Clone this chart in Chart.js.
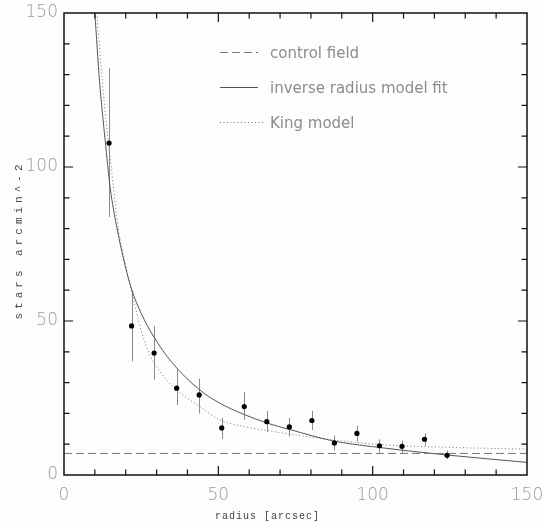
<!DOCTYPE html>
<html lang="en">
<head>
<meta charset="UTF-8">
<script src="https://cdn.jsdelivr.net/npm/chart.js"></script>
<title>stars per arcmin^2 vs radius</title>
<style>
  html, body { margin: 0; padding: 0; background: #fdfdfd; }
</style>
</head>
<body>
<canvas id="myChart" width="544" height="522"></canvas>
<script>
// measured star density with error bars
const radius  = [14.6, 21.9, 29.2, 36.5, 43.8, 51.1, 58.4, 65.7, 73.0, 80.3, 87.6, 94.9, 102.2, 109.5, 116.8, 124.1];
const density = [107.8, 48.4, 39.6, 28.2, 26.0, 15.3, 22.2, 17.3, 15.6, 17.7, 10.4, 13.5, 9.5, 9.3, 11.6, 6.4];
const errUp   = [132, 60, 48.4, 34.2, 31.3, 18.5, 27, 20.8, 18.5, 20.8, 12.8, 15.9, 11.6, 11.1, 13.5, 7.9];
const errDown = [83.8, 36.9, 31, 22.7, 20, 11.7, 17.9, 14, 12.4, 14.6, 7.9, 10.8, 7.2, 7.0, 9.4, 5.1];

// inverse radius model fit
const fitR = [10, 11.5, 13.3, 15, 17, 19.8, 22, 25, 29, 35, 44, 50.5, 58, 66, 73, 87, 100, 124, 150];
const fitY = [150, 128, 109, 93, 81, 68, 60, 52.5, 45, 36.5, 27.6, 23.3, 19.8, 16.8, 14.8, 11.1, 9.2, 6.5, 4.1];

// King model
const kingR = [10.6, 12, 13.5, 15.3, 17.6, 20, 21.9, 25, 28, 32, 36, 44, 50.5, 58, 66.7, 80, 87.2, 102, 124, 150];
const kingY = [150, 133, 116, 100, 80, 68, 59.5, 47, 38.5, 32.5, 28, 22.2, 17.9, 15.8, 14.3, 12.3, 11.4, 9.9, 9.0, 8.4];

// control field level
const ctrlR = [0, 150];
const ctrlY = [7.0, 7.0];

const xTicks = [0, 50, 100, 150];
const yTicks = [0, 50, 100, 150];

const pts = (xs, ys) => xs.map((v, i) => ({ x: v, y: ys[i] }));

const decor = {
    id: 'decor',
    beforeDatasetsDraw(chart) {
        const { ctx, scales: { x, y } } = chart;
        ctx.save();
        ctx.strokeStyle = '#8a8a8a';
        ctx.lineWidth = 1;
        radius.forEach((r, i) => {
            const px = Math.round(x.getPixelForValue(r)) + 0.5;
            ctx.beginPath();
            ctx.moveTo(px, y.getPixelForValue(errUp[i]));
            ctx.lineTo(px, y.getPixelForValue(errDown[i]));
            ctx.stroke();
        });
        ctx.restore();
    },
    afterDraw(chart) {
        const { ctx, chartArea: a, scales: { x, y } } = chart;
        ctx.save();
        // frame
        ctx.strokeStyle = '#111';
        ctx.lineWidth = 1.5;
        ctx.strokeRect(a.left, a.top, a.right - a.left, a.bottom - a.top);
        // ticks, minor every 10
        ctx.lineWidth = 1.2;
        for (let v = 10; v < 150; v += 10) {
            const len = v % 50 === 0 ? 9 : 5.5;
            const px = x.getPixelForValue(v);
            const py = y.getPixelForValue(v);
            ctx.beginPath();
            ctx.moveTo(px, a.bottom); ctx.lineTo(px, a.bottom - len);
            ctx.moveTo(px, a.top); ctx.lineTo(px, a.top + len);
            ctx.moveTo(a.left, py); ctx.lineTo(a.left + len, py);
            ctx.moveTo(a.right, py); ctx.lineTo(a.right - len, py);
            ctx.stroke();
        }
        // legend
        const items = [
            { ds: chart.data.datasets[1], y: 52, dash: [8, 4], col: '#777', width: 38 },
            { ds: chart.data.datasets[2], y: 87, dash: [], col: '#555', width: 38 },
            { ds: chart.data.datasets[3], y: 122, dash: [1, 2.5], col: '#777', width: 45 }
        ];
        ctx.font = '15px "DejaVu Sans"';
        ctx.textBaseline = 'alphabetic';
        ctx.textAlign = 'left';
        items.forEach(it => {
            ctx.strokeStyle = it.col;
            ctx.lineWidth = 1;
            ctx.setLineDash(it.dash);
            ctx.beginPath();
            ctx.moveTo(220, it.y + 0.5);
            ctx.lineTo(220 + it.width, it.y + 0.5);
            ctx.stroke();
            ctx.setLineDash([]);
            ctx.fillStyle = '#8c8c8c';
            ctx.fillText(it.ds.label, 270, it.y + 6);
        });
        // axis titles
        ctx.fillStyle = '#444';
        ctx.font = '10px "Liberation Mono"';
        ctx.letterSpacing = '1px';
        ctx.textAlign = 'left';
        ctx.textBaseline = 'middle';
        ctx.fillText('radius [arcsec]', 215, 516);
        ctx.translate(19, 240);
        ctx.rotate(-Math.PI / 2);
        ctx.font = '11px "Liberation Mono"';
        ctx.letterSpacing = '4px';
        ctx.textAlign = 'center';
        ctx.fillText('stars arcmin^-2', 0, 0);
        ctx.restore();
    }
};

new Chart(document.getElementById('myChart'), {
    type: 'scatter',
    data: {
        datasets: [{
            label: 'data',
            data: pts(radius, density),
            pointRadius: 2.6,
            pointBackgroundColor: '#000',
            pointBorderWidth: 0,
            showLine: false
        }, {
            label: 'control field',
            type: 'line',
            data: pts(ctrlR, ctrlY),
            borderColor: '#777',
            borderWidth: 1,
            borderDash: [8, 4],
            pointRadius: 0,
            fill: false
        }, {
            label: 'inverse radius model fit',
            type: 'line',
            data: pts(fitR, fitY),
            borderColor: '#555',
            borderWidth: 1,
            pointRadius: 0,
            cubicInterpolationMode: 'monotone',
            fill: false
        }, {
            label: 'King model',
            type: 'line',
            data: pts(kingR, kingY),
            borderColor: '#777',
            borderWidth: 1,
            borderDash: [1, 2.5],
            pointRadius: 0,
            cubicInterpolationMode: 'monotone',
            fill: false
        }]
    },
    options: {
        responsive: false,
        animation: false,
        layout: { padding: { top: 13, right: 17, left: 0, bottom: 0 } },
        plugins: { legend: { display: false }, tooltip: { enabled: false } },
        scales: {
            x: {
                type: 'linear', min: 0, max: 150,
                afterFit: s => { s.height = 47; s.paddingLeft = 0; s.paddingRight = 0; },
                afterBuildTicks: s => { s.ticks = xTicks.map(v => ({ value: v })); },
                grid: { display: false, drawTicks: false },
                border: { display: false },
                ticks: { padding: 10, color: '#9a9a9a', font: { family: 'DejaVu Sans', size: 17, weight: 200 }, maxRotation: 0 }
            },
            y: {
                type: 'linear', min: 0, max: 150,
                afterFit: s => { s.width = 64; s.paddingTop = 0; s.paddingBottom = 0; },
                afterBuildTicks: s => { s.ticks = yTicks.map(v => ({ value: v })); },
                grid: { display: false, drawTicks: false },
                border: { display: false },
                ticks: { padding: 6, color: '#9a9a9a', font: { family: 'DejaVu Sans', size: 17, weight: 200 } }
            }
        }
    },
    plugins: [decor]
});
</script>
</body>
</html>
